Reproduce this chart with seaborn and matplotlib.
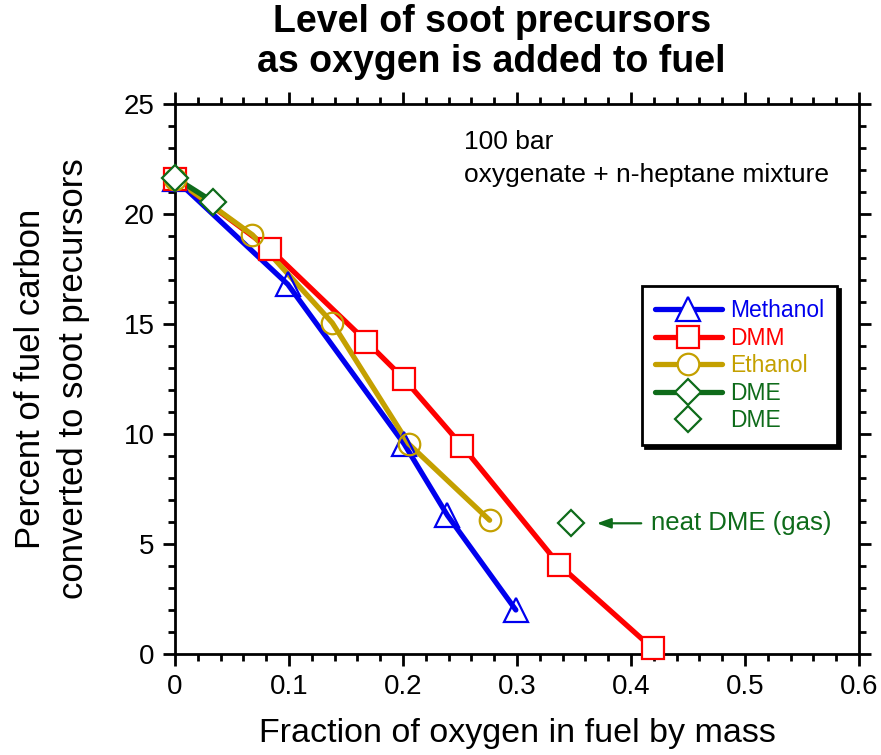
import matplotlib
matplotlib.use("Agg")
import matplotlib.pyplot as plt
from matplotlib.lines import Line2D
from matplotlib.ticker import MultipleLocator
import seaborn as sns
import pandas as pd

sns.set_theme(style="white")
plt.rcParams["font.family"] = ["Liberation Sans", "DejaVu Sans"]
plt.rcParams["text.color"] = "black"
plt.rcParams["axes.labelcolor"] = "black"
plt.rcParams["xtick.color"] = "black"
plt.rcParams["ytick.color"] = "black"

# Oxygen mass fraction in fuel and % of fuel carbon converted to soot precursors
methanol_x = [0.0, 0.099, 0.201, 0.239, 0.299]
methanol_y = [21.6, 16.8, 9.55, 6.3, 2.0]

dmm_x = [0.0, 0.0835, 0.168, 0.201, 0.252, 0.337, 0.419]
dmm_y = [21.6, 18.4, 14.2, 12.5, 9.45, 4.05, 0.25]

ethanol_x = [0.0, 0.068, 0.138, 0.205, 0.276]
ethanol_y = [21.6, 19.05, 15.05, 9.55, 6.08]

dme_x = [0.0, 0.0335]
dme_y = [21.65, 20.55]

neat_dme_x = [0.347]
neat_dme_y = [5.94]

labels = ["Methanol", "DMM", "Ethanol", "DME", "DME"]
colors = {"Methanol": "#0000EE", "DMM": "#FF0000", "Ethanol": "#C4A000", "DME": "#0E6B1A"}

fig = plt.figure(figsize=(8.81, 7.55), dpi=100)
ax = fig.add_axes([0.1986, 0.1338, 0.7764, 0.7285])

series = [
    ("Methanol", methanol_x, methanol_y, "^", "none", 17),
    ("DMM", dmm_x, dmm_y, "s", "white", 16),
    ("Ethanol", ethanol_x, ethanol_y, "o", "none", 15.5),
    ("DME", dme_x, dme_y, "D", "white", 13.5),
]

lw = 3.8
mew = 1.6
for z, (name, xs, ys, mk, fc, ms) in enumerate(series):
    df = pd.DataFrame({"x": xs, "y": ys})
    sns.lineplot(data=df, x="x", y="y", sort=False, color=colors[name],
                 linewidth=lw, ax=ax, zorder=2 + z * 0.1, legend=False,
                 clip_on=False)
for z, (name, xs, ys, mk, fc, ms) in enumerate(series):
    df = pd.DataFrame({"x": xs, "y": ys})
    sns.lineplot(data=df, x="x", y="y", sort=False, linestyle="none",
                 marker=mk, markersize=ms, markerfacecolor=fc,
                 markeredgecolor=colors[name], markeredgewidth=mew,
                 ax=ax, zorder=3 + z * 0.1, legend=False, clip_on=False)

df_neat = pd.DataFrame({"x": neat_dme_x, "y": neat_dme_y})
sns.lineplot(data=df_neat, x="x", y="y", linestyle="none", marker="D",
             markersize=13.5, markerfacecolor="none",
             markeredgecolor=colors["DME"], markeredgewidth=mew, ax=ax,
             zorder=3, legend=False)

ax.set_xlim(0, 0.6)
ax.set_ylim(0, 25)
ax.xaxis.set_major_locator(MultipleLocator(0.1))
ax.xaxis.set_minor_locator(MultipleLocator(0.02))
ax.yaxis.set_major_locator(MultipleLocator(5))
ax.yaxis.set_minor_locator(MultipleLocator(1))
ax.set_xticks([0, 0.1, 0.2, 0.3, 0.4, 0.5, 0.6])
ax.set_xticklabels(["0", "0.1", "0.2", "0.3", "0.4", "0.5", "0.6"])

for s in ax.spines.values():
    s.set_color("black")
    s.set_linewidth(2)
    s.set_zorder(1)
ax.tick_params(which="both", direction="out", color="black", width=2,
               labelcolor="black",
               top=True, right=True, labeltop=False, labelright=False,
               bottom=True, left=True)
ax.tick_params(which="major", length=8.5, labelsize=20, pad=6)
ax.tick_params(which="minor", length=5)

ax.set_xlabel("Fraction of oxygen in fuel by mass", fontsize=24.5, labelpad=13)
ax.set_ylabel("Percent of fuel carbon\nconverted to soot precursors",
              fontsize=25, labelpad=24, linespacing=1.42)

fig.suptitle("Level of soot precursors\nas oxygen is added to fuel",
             x=0.558, y=0.995, fontsize=27, fontweight="bold",
             linespacing=1.15)

ax.text(0.423, 0.952, "100 bar\noxygenate + n-heptane mixture",
        transform=ax.transAxes, fontsize=19, va="top", ha="left",
        linespacing=1.45, color="black")

ax.annotate("", xy=(0.370, 5.94), xytext=(0.409, 5.94),
            arrowprops=dict(arrowstyle="-|>,head_length=0.7,head_width=0.25",
                            color=colors["DME"], lw=1.6,
                            shrinkA=0, shrinkB=0))
ax.text(0.418, 5.94, "neat DME (gas)", fontsize=18.5, color=colors["DME"],
        va="center", ha="left")

handles = []
for name, xs, ys, mk, fc, ms in series:
    handles.append(Line2D([], [], color=colors[name], linewidth=lw, marker=mk,
                          markersize=ms, markerfacecolor="white",
                          markeredgecolor=colors[name], markeredgewidth=mew))
handles.append(Line2D([], [], linestyle="none", marker="D", markersize=13.5,
                      markerfacecolor="white", markeredgecolor=colors["DME"],
                      markeredgewidth=mew))
leg = ax.legend(handles, labels, loc="upper left", bbox_to_anchor=(0.683, 0.669),
                fontsize=16.5, frameon=True, fancybox=False,
                shadow={"color": "black", "alpha": 1.0}, handlelength=2.9,
                handletextpad=0.35, labelspacing=0.2, borderpad=0.57,
                borderaxespad=0)
leg.get_frame().set_edgecolor("black")
leg.get_frame().set_linewidth(2)
for t, name in zip(leg.get_texts(), labels):
    t.set_color(colors[name])

fig.savefig("out.png", dpi=100, facecolor="white")
